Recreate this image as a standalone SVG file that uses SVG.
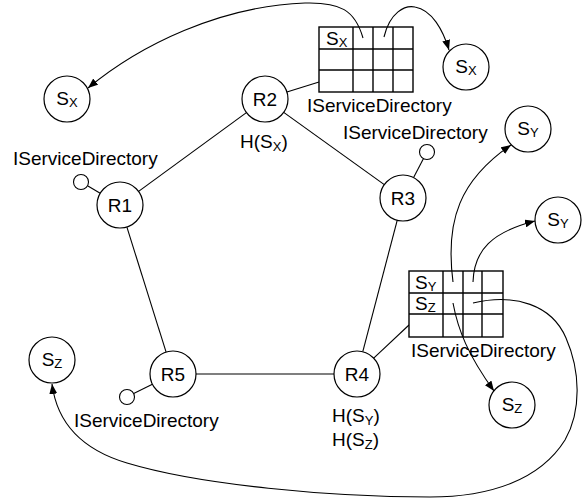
<svg xmlns="http://www.w3.org/2000/svg" width="582" height="499" viewBox="0 0 582 499">
  <style>
    text { font-family: "Liberation Sans", Arial, sans-serif; font-size: 19px; fill: #000; }
    .mid { text-anchor: middle; }
    .sub { font-size: 13px; }
    .node { fill: #fff; stroke: #000; stroke-width: 1.2; }
    .port { fill: #fff; stroke: #000; stroke-width: 1.1; }
    .edge { stroke: #000; stroke-width: 1.1; fill: none; }
    .arrow { stroke: #000; stroke-width: 1.1; fill: none; marker-end: url(#head); }
    .grid { fill: #fff; stroke: #000; stroke-width: 1.4; }
    .gridline { stroke: #000; stroke-width: 1.4; }
  </style>
  <defs>
    <marker id="head" viewBox="0 0 10 8" refX="10" refY="4" markerWidth="10" markerHeight="8" markerUnits="userSpaceOnUse" orient="auto">
      <path d="M0,0 L10,4 L0,8 z" fill="#000"/>
    </marker>
  </defs>

  <!-- ring links, port stubs and directory links -->
  <g id="links">
    <line class="edge" x1="138.6" y1="191.4" x2="246.4" y2="112.6"/>
    <line class="edge" x1="283.7" y1="112.4" x2="384.3" y2="184.6"/>
    <line class="edge" x1="397.2" y1="220.3" x2="362.8" y2="351.7"/>
    <line class="edge" x1="334" y1="374" x2="196" y2="374"/>
    <line class="edge" x1="166.1" y1="352.1" x2="126.9" y2="227.1"/>
    <line class="edge" x1="286.9" y1="92.1" x2="319" y2="82"/>
    <line class="edge" x1="373.7" y1="358.2" x2="409" y2="325"/>
    <line class="edge" x1="87.5" y1="185.8" x2="100.2" y2="193.3"/>
    <line class="edge" x1="423.5" y1="158.6" x2="413.6" y2="177.6"/>
    <line class="edge" x1="133.7" y1="393.6" x2="152.4" y2="384.3"/>
  </g>

  <!-- routers -->
  <g id="R1">
    <circle class="node" cx="120" cy="205" r="23"/>
    <text class="mid" x="120" y="212">R1</text>
    <circle class="port" cx="81" cy="182" r="7.5"/>
    <text x="13" y="165">IServiceDirectory</text>
  </g>
  <g id="R2">
    <circle class="node" cx="265" cy="99" r="23"/>
    <text class="mid" x="265" y="106">R2</text>
    <text x="240" y="148">H(S<tspan class="sub" dy="3">X</tspan><tspan dy="-3">)</tspan></text>
  </g>
  <g id="R3">
    <circle class="node" cx="403" cy="198" r="23"/>
    <text class="mid" x="403" y="205">R3</text>
    <circle class="port" cx="427" cy="152" r="7.5"/>
    <text x="343" y="139">IServiceDirectory</text>
  </g>
  <g id="R4">
    <circle class="node" cx="357" cy="374" r="23"/>
    <text class="mid" x="357" y="381">R4</text>
    <text x="332" y="422">H(S<tspan class="sub" dy="3">Y</tspan><tspan dy="-3">)</tspan></text>
    <text x="332" y="446">H(S<tspan class="sub" dy="3">Z</tspan><tspan dy="-3">)</tspan></text>
  </g>
  <g id="R5">
    <circle class="node" cx="173" cy="374" r="23"/>
    <text class="mid" x="173" y="381">R5</text>
    <circle class="port" cx="127" cy="397" r="7.5"/>
    <text x="74" y="427">IServiceDirectory</text>
  </g>

  <!-- services -->
  <g id="SX-left">
    <circle class="node" cx="67" cy="99" r="23"/>
    <text class="mid" x="67" y="105">S<tspan class="sub" dy="2">X</tspan></text>
  </g>
  <g id="SX-right">
    <circle class="node" cx="466" cy="67" r="23"/>
    <text class="mid" x="466" y="73">S<tspan class="sub" dy="2">X</tspan></text>
  </g>
  <g id="SY-top">
    <circle class="node" cx="528" cy="129" r="23"/>
    <text class="mid" x="528" y="135">S<tspan class="sub" dy="2">Y</tspan></text>
  </g>
  <g id="SY-mid">
    <circle class="node" cx="558" cy="220" r="23"/>
    <text class="mid" x="558" y="226">S<tspan class="sub" dy="2">Y</tspan></text>
  </g>
  <g id="SZ-left">
    <circle class="node" cx="52" cy="360" r="23"/>
    <text class="mid" x="52" y="366">S<tspan class="sub" dy="2">Z</tspan></text>
  </g>
  <g id="SZ-right">
    <circle class="node" cx="512" cy="405" r="23"/>
    <text class="mid" x="512" y="411">S<tspan class="sub" dy="2">Z</tspan></text>
  </g>

  <!-- directory tables -->
  <g id="dir-top">
    <rect class="grid" x="319" y="27" width="94" height="65"/>
    <line class="gridline" x1="319" y1="49" x2="413" y2="49"/>
    <line class="gridline" x1="319" y1="70" x2="413" y2="70"/>
    <line class="gridline" x1="353" y1="27" x2="353" y2="92"/>
    <line class="gridline" x1="373" y1="27" x2="373" y2="92"/>
    <line class="gridline" x1="393" y1="27" x2="393" y2="92"/>
    <text x="326" y="45">S<tspan class="sub" dy="2">X</tspan></text>
    <text x="307" y="112">IServiceDirectory</text>
  </g>
  <g id="dir-right">
    <rect class="grid" x="409" y="271" width="94" height="66"/>
    <line class="gridline" x1="409" y1="293" x2="503" y2="293"/>
    <line class="gridline" x1="409" y1="314" x2="503" y2="314"/>
    <line class="gridline" x1="443" y1="271" x2="443" y2="337"/>
    <line class="gridline" x1="463" y1="271" x2="463" y2="337"/>
    <line class="gridline" x1="482" y1="271" x2="482" y2="337"/>
    <text x="415" y="289">S<tspan class="sub" dy="2">Y</tspan></text>
    <text x="415" y="310">S<tspan class="sub" dy="2">Z</tspan></text>
    <text x="411" y="357">IServiceDirectory</text>
  </g>

  <!-- lookup arrows from directory entries to service instances -->
  <g id="connectors">
    <path class="arrow" d="M363,38 C355,10 340,2 305,3 C220,6 140,45 88,88"/>
    <path class="arrow" d="M384,37 C390,12 405,5 415,7 C432,10 443,30 449,50"/>
    <path class="arrow" d="M453,282 C445,220 460,180 511,145"/>
    <path class="arrow" d="M473,282 C474,250 492,232 535,221"/>
    <path class="arrow" d="M453,303 C458,330 468,355 494,391"/>
    <path class="arrow" d="M473,303 C515,293 552,305 566,338 C580,370 582,410 565,440 C540,480 490,497 430,497 C330,497 200,485 127,463 C90,452 58,430 52,384"/>
  </g>
</svg>
